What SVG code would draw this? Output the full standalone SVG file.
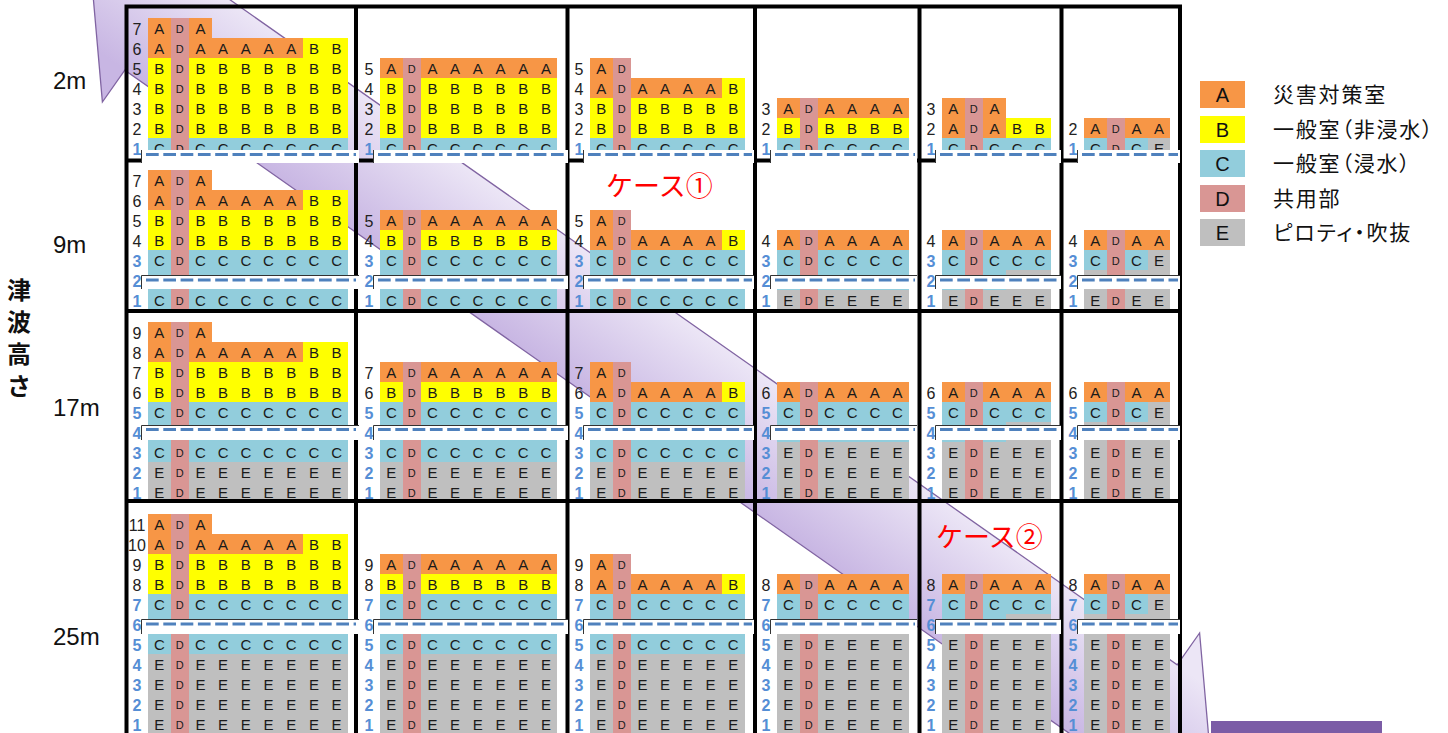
<svg xmlns="http://www.w3.org/2000/svg" width="1448" height="733" viewBox="0 0 1448 733">
<defs>
<linearGradient id="ag" gradientUnits="userSpaceOnUse" x1="684.9" y1="319.2" x2="617.1" y2="415.8">
<stop offset="0" stop-color="#ece6f6"/><stop offset="1" stop-color="#c8b6e3"/>
</linearGradient>
<style>
.a{fill:#f79646}.b{fill:#ffff00}.c{fill:#92cddc}.d{fill:#d99694}.e{fill:#bfbfbf}
rect.a,rect.b,rect.c,rect.d,rect.e{shape-rendering:crispEdges}
.t{font-family:"Liberation Sans",Arial,sans-serif;font-size:15px;fill:#1a1a1a;text-anchor:middle}
.td{font-size:11px}
.n{font-family:"Liberation Sans",Arial,sans-serif;font-size:16px;fill:#222;text-anchor:middle}
.nb{fill:#558ed5;font-weight:bold}
.wb{fill:#fff}
.bl{stroke:#333;stroke-width:1;fill:none}
.dl{stroke:#4f81bd;stroke-width:3;stroke-dasharray:12.7 4.6;fill:none}
.g{stroke:#000;stroke-width:4;fill:none}
.lab{font-family:"Liberation Sans",Arial,sans-serif;font-size:24px;fill:#111}
.jp{font-family:"Noto Sans CJK JP","Noto Sans CJK SC",sans-serif}
.red{font-size:27px;fill:#ff0000}
.lg{font-size:21px;fill:#111;letter-spacing:1.8px;font-feature-settings:"palt"}
.lt{font-family:"Liberation Sans",Arial,sans-serif;font-size:20px;fill:#111;text-anchor:middle}
</style>
</defs>
<rect width="1448" height="733" fill="#fff"/>

<g id="arrow">
<polygon points="91.2,-25.7 215,-58.4 192.6,-26.5 1177.2,664.9 1199.6,633 1210.8,760.7 1087,793.4 1109.4,761.5 124.8,70.1 102.4,102" fill="url(#ag)" stroke="#8064a2" stroke-width="1.3"/>
</g>

<!-- Row 1: 2m -->
<g id="r1c1">
<rect class="a" x="148" y="18" width="22.5" height="40"/><rect class="b" x="148" y="58" width="22.5" height="80"/><rect class="c" x="148" y="138" width="22.5" height="20"/>
<rect class="d" x="170.5" y="18" width="18.5" height="140"/>
<rect class="a" x="189" y="18" width="22.7" height="20"/><rect class="a" x="189" y="38" width="113.5" height="20"/><rect class="b" x="302.5" y="38" width="45.4" height="20"/>
<rect class="b" x="189" y="58" width="158.9" height="80"/><rect class="c" x="189" y="138" width="158.9" height="20"/>
<text class="t"><tspan x="159.3 159.3 159.3 159.3 159.3 159.3 159.3" y="34 54 74 94 114 134 154">AABBBBC</tspan><tspan class="td" x="179.8 179.8 179.8 179.8 179.8 179.8 179.8" y="33 53 73 93 113 133 153">DDDDDDD</tspan><tspan x="200.4 200.4 200.4 200.4 200.4 200.4 200.4" y="34 54 74 94 114 134 154">AABBBBC</tspan><tspan x="223.1 223.1 223.1 223.1 223.1 223.1" y="54 74 94 114 134 154">ABBBBC</tspan><tspan x="245.8 245.8 245.8 245.8 245.8 245.8" y="54 74 94 114 134 154">ABBBBC</tspan><tspan x="268.5 268.5 268.5 268.5 268.5 268.5" y="54 74 94 114 134 154">ABBBBC</tspan><tspan x="291.2 291.2 291.2 291.2 291.2 291.2" y="54 74 94 114 134 154">ABBBBC</tspan><tspan x="313.9 313.9 313.9 313.9 313.9 313.9" y="54 74 94 114 134 154">BBBBBC</tspan><tspan x="336.6 336.6 336.6 336.6 336.6 336.6" y="54 74 94 114 134 154">BBBBBC</tspan></text>
<text class="n"><tspan x="137 137 137 137 137 137" y="34.5 54.5 74.5 94.5 114.5 134.5">765432</tspan><tspan class="nb" x="137" y="154.5">1</tspan></text>
</g>
<g id="r1c2">
<rect class="a" x="380" y="58" width="22.5" height="20"/><rect class="b" x="380" y="78" width="22.5" height="60"/><rect class="c" x="380" y="138" width="22.5" height="20"/>
<rect class="d" x="402.5" y="58" width="18.5" height="100"/>
<rect class="a" x="421" y="58" width="136.2" height="20"/><rect class="b" x="421" y="78" width="136.2" height="60"/><rect class="c" x="421" y="138" width="136.2" height="20"/>
<text class="t"><tspan x="391.3 391.3 391.3 391.3 391.3" y="74 94 114 134 154">ABBBC</tspan><tspan class="td" x="411.8 411.8 411.8 411.8 411.8" y="73 93 113 133 153">DDDDD</tspan><tspan x="432.4 432.4 432.4 432.4 432.4" y="74 94 114 134 154">ABBBC</tspan><tspan x="455.1 455.1 455.1 455.1 455.1" y="74 94 114 134 154">ABBBC</tspan><tspan x="477.8 477.8 477.8 477.8 477.8" y="74 94 114 134 154">ABBBC</tspan><tspan x="500.5 500.5 500.5 500.5 500.5" y="74 94 114 134 154">ABBBC</tspan><tspan x="523.2 523.2 523.2 523.2 523.2" y="74 94 114 134 154">ABBBC</tspan><tspan x="545.9 545.9 545.9 545.9 545.9" y="74 94 114 134 154">ABBBC</tspan></text>
<text class="n"><tspan x="369 369 369 369" y="74.5 94.5 114.5 134.5">5432</tspan><tspan class="nb" x="369" y="154.5">1</tspan></text>
</g>
<g id="r1c3">
<rect class="a" x="590" y="58" width="22.5" height="40"/><rect class="b" x="590" y="98" width="22.5" height="40"/><rect class="c" x="590" y="138" width="22.5" height="20"/>
<rect class="d" x="612.5" y="58" width="18.5" height="100"/>
<rect class="a" x="631" y="78" width="90.8" height="20"/><rect class="b" x="721.8" y="78" width="22.7" height="20"/>
<rect class="b" x="631" y="98" width="113.5" height="40"/><rect class="c" x="631" y="138" width="113.5" height="20"/>
<text class="t"><tspan x="601.3 601.3 601.3 601.3 601.3" y="74 94 114 134 154">AABBC</tspan><tspan class="td" x="621.8 621.8 621.8 621.8 621.8" y="73 93 113 133 153">DDDDD</tspan><tspan x="642.4 642.4 642.4 642.4" y="94 114 134 154">ABBC</tspan><tspan x="665.1 665.1 665.1 665.1" y="94 114 134 154">ABBC</tspan><tspan x="687.8 687.8 687.8 687.8" y="94 114 134 154">ABBC</tspan><tspan x="710.5 710.5 710.5 710.5" y="94 114 134 154">ABBC</tspan><tspan x="733.2 733.2 733.2 733.2" y="94 114 134 154">BBBC</tspan></text>
<text class="n"><tspan x="579 579 579 579" y="74.5 94.5 114.5 134.5">5432</tspan><tspan class="nb" x="579" y="154.5">1</tspan></text>
</g>
<g id="r1c4">
<rect class="a" x="777" y="98" width="22.5" height="20"/><rect class="b" x="777" y="118" width="22.5" height="20"/><rect class="c" x="777" y="138" width="22.5" height="20"/>
<rect class="d" x="799.5" y="98" width="18.5" height="60"/>
<rect class="a" x="818" y="98" width="90.8" height="20"/><rect class="b" x="818" y="118" width="90.8" height="20"/><rect class="c" x="818" y="138" width="90.8" height="20"/>
<text class="t"><tspan x="788.3 788.3 788.3" y="114 134 154">ABC</tspan><tspan class="td" x="808.8 808.8 808.8" y="113 133 153">DDD</tspan><tspan x="829.4 829.4 829.4" y="114 134 154">ABC</tspan><tspan x="852.1 852.1 852.1" y="114 134 154">ABC</tspan><tspan x="874.8 874.8 874.8" y="114 134 154">ABC</tspan><tspan x="897.5 897.5 897.5" y="114 134 154">ABC</tspan></text>
<text class="n"><tspan x="766 766" y="114.5 134.5">32</tspan><tspan class="nb" x="766" y="154.5">1</tspan></text>
</g>
<g id="r1c5">
<rect class="a" x="942" y="98" width="22.5" height="40"/><rect class="c" x="942" y="138" width="22.5" height="20"/>
<rect class="d" x="964.5" y="98" width="18.5" height="60"/>
<rect class="a" x="983" y="98" width="22.7" height="40"/><rect class="b" x="1005.7" y="118" width="45.4" height="20"/><rect class="c" x="983" y="138" width="68.1" height="20"/>
<text class="t"><tspan x="953.3 953.3 953.3" y="114 134 154">AAC</tspan><tspan class="td" x="973.8 973.8 973.8" y="113 133 153">DDD</tspan><tspan x="994.4 994.4 994.4" y="114 134 154">AAC</tspan><tspan x="1017.1 1017.1" y="134 154">BC</tspan><tspan x="1039.8 1039.8" y="134 154">BC</tspan></text>
<text class="n"><tspan x="931 931" y="114.5 134.5">32</tspan><tspan class="nb" x="931" y="154.5">1</tspan></text>
</g>
<g id="r1c6">
<rect class="a" x="1084" y="118" width="22.5" height="20"/><rect class="c" x="1084" y="138" width="22.5" height="20"/>
<rect class="d" x="1106.5" y="118" width="18.5" height="40"/>
<rect class="a" x="1125" y="118" width="45.4" height="20"/><rect class="c" x="1125" y="138" width="22.7" height="20"/><rect class="e" x="1147.7" y="138" width="22.7" height="20"/>
<text class="t"><tspan x="1095.3 1095.3" y="134 154">AC</tspan><tspan class="td" x="1115.8 1115.8" y="133 153">DD</tspan><tspan x="1136.4 1136.4" y="134 154">AC</tspan><tspan x="1159.1 1159.1" y="134 154">AE</tspan></text>
<text class="n"><tspan x="1073" y="134.5">2</tspan><tspan class="nb" x="1073" y="154.5">1</tspan></text>
</g>

<!-- Row 2: 9m -->
<g id="r2c1">
<rect class="a" x="148" y="170" width="22.5" height="40"/><rect class="b" x="148" y="210" width="22.5" height="40"/><rect class="c" x="148" y="250" width="22.5" height="60"/>
<rect class="d" x="170.5" y="170" width="18.5" height="140"/>
<rect class="a" x="189" y="170" width="22.7" height="20"/><rect class="a" x="189" y="190" width="113.5" height="20"/><rect class="b" x="302.5" y="190" width="45.4" height="20"/>
<rect class="b" x="189" y="210" width="158.9" height="40"/><rect class="c" x="189" y="250" width="158.9" height="60"/>
<text class="t"><tspan x="159.3 159.3 159.3 159.3 159.3 159.3" y="186 206 226 246 266 306">AABBCC</tspan><tspan class="td" x="179.8 179.8 179.8 179.8 179.8 179.8" y="185 205 225 245 265 305">DDDDDD</tspan><tspan x="200.4 200.4 200.4 200.4 200.4 200.4" y="186 206 226 246 266 306">AABBCC</tspan><tspan x="223.1 223.1 223.1 223.1 223.1" y="206 226 246 266 306">ABBCC</tspan><tspan x="245.8 245.8 245.8 245.8 245.8" y="206 226 246 266 306">ABBCC</tspan><tspan x="268.5 268.5 268.5 268.5 268.5" y="206 226 246 266 306">ABBCC</tspan><tspan x="291.2 291.2 291.2 291.2 291.2" y="206 226 246 266 306">ABBCC</tspan><tspan x="313.9 313.9 313.9 313.9 313.9" y="206 226 246 266 306">BBBCC</tspan><tspan x="336.6 336.6 336.6 336.6 336.6" y="206 226 246 266 306">BBBCC</tspan></text>
<text class="n"><tspan x="137 137 137 137" y="186.5 206.5 226.5 246.5">7654</tspan><tspan class="nb" x="137 137 137" y="266.5 286.5 306.5">321</tspan></text>
</g>
<g id="r2c2">
<rect class="a" x="380" y="210" width="22.5" height="20"/><rect class="b" x="380" y="230" width="22.5" height="20"/><rect class="c" x="380" y="250" width="22.5" height="60"/>
<rect class="d" x="402.5" y="210" width="18.5" height="100"/>
<rect class="a" x="421" y="210" width="136.2" height="20"/><rect class="b" x="421" y="230" width="136.2" height="20"/><rect class="c" x="421" y="250" width="136.2" height="60"/>
<text class="t"><tspan x="391.3 391.3 391.3 391.3" y="226 246 266 306">ABCC</tspan><tspan class="td" x="411.8 411.8 411.8 411.8" y="225 245 265 305">DDDD</tspan><tspan x="432.4 432.4 432.4 432.4" y="226 246 266 306">ABCC</tspan><tspan x="455.1 455.1 455.1 455.1" y="226 246 266 306">ABCC</tspan><tspan x="477.8 477.8 477.8 477.8" y="226 246 266 306">ABCC</tspan><tspan x="500.5 500.5 500.5 500.5" y="226 246 266 306">ABCC</tspan><tspan x="523.2 523.2 523.2 523.2" y="226 246 266 306">ABCC</tspan><tspan x="545.9 545.9 545.9 545.9" y="226 246 266 306">ABCC</tspan></text>
<text class="n"><tspan x="369 369" y="226.5 246.5">54</tspan><tspan class="nb" x="369 369 369" y="266.5 286.5 306.5">321</tspan></text>
</g>
<g id="r2c3">
<rect class="a" x="590" y="210" width="22.5" height="40"/><rect class="c" x="590" y="250" width="22.5" height="60"/>
<rect class="d" x="612.5" y="210" width="18.5" height="100"/>
<rect class="a" x="631" y="230" width="90.8" height="20"/><rect class="b" x="721.8" y="230" width="22.7" height="20"/><rect class="c" x="631" y="250" width="113.5" height="60"/>
<text class="t"><tspan x="601.3 601.3 601.3 601.3" y="226 246 266 306">AACC</tspan><tspan class="td" x="621.8 621.8 621.8 621.8" y="225 245 265 305">DDDD</tspan><tspan x="642.4 642.4 642.4" y="246 266 306">ACC</tspan><tspan x="665.1 665.1 665.1" y="246 266 306">ACC</tspan><tspan x="687.8 687.8 687.8" y="246 266 306">ACC</tspan><tspan x="710.5 710.5 710.5" y="246 266 306">ACC</tspan><tspan x="733.2 733.2 733.2" y="246 266 306">BCC</tspan></text>
<text class="n"><tspan x="579 579" y="226.5 246.5">54</tspan><tspan class="nb" x="579 579 579" y="266.5 286.5 306.5">321</tspan></text>
</g>
<g id="r2c4">
<rect class="a" x="777" y="230" width="22.5" height="20"/><rect class="c" x="777" y="250" width="22.5" height="40"/><rect class="e" x="777" y="290" width="22.5" height="20"/>
<rect class="d" x="799.5" y="230" width="18.5" height="80"/>
<rect class="a" x="818" y="230" width="90.8" height="20"/><rect class="c" x="818" y="250" width="90.8" height="40"/><rect class="e" x="818" y="290" width="90.8" height="20"/>
<text class="t"><tspan x="788.3 788.3 788.3" y="246 266 306">ACE</tspan><tspan class="td" x="808.8 808.8 808.8" y="245 265 305">DDD</tspan><tspan x="829.4 829.4 829.4" y="246 266 306">ACE</tspan><tspan x="852.1 852.1 852.1" y="246 266 306">ACE</tspan><tspan x="874.8 874.8 874.8" y="246 266 306">ACE</tspan><tspan x="897.5 897.5 897.5" y="246 266 306">ACE</tspan></text>
<text class="n"><tspan x="766" y="246.5">4</tspan><tspan class="nb" x="766 766 766" y="266.5 286.5 306.5">321</tspan></text>
</g>
<g id="r2c5">
<rect class="a" x="942" y="230" width="22.5" height="20"/><rect class="c" x="942" y="250" width="22.5" height="40"/><rect class="e" x="942" y="290" width="22.5" height="20"/>
<rect class="d" x="964.5" y="230" width="18.5" height="80"/>
<rect class="a" x="983" y="230" width="68.1" height="20"/><rect class="c" x="983" y="250" width="68.1" height="20"/><rect class="c" x="983" y="270" width="22.7" height="20"/><rect class="e" x="1005.7" y="270" width="45.4" height="20"/><rect class="e" x="983" y="290" width="68.1" height="20"/>
<text class="t"><tspan x="953.3 953.3 953.3" y="246 266 306">ACE</tspan><tspan class="td" x="973.8 973.8 973.8" y="245 265 305">DDD</tspan><tspan x="994.4 994.4 994.4" y="246 266 306">ACE</tspan><tspan x="1017.1 1017.1 1017.1" y="246 266 306">ACE</tspan><tspan x="1039.8 1039.8 1039.8" y="246 266 306">ACE</tspan></text>
<text class="n"><tspan x="931" y="246.5">4</tspan><tspan class="nb" x="931 931 931" y="266.5 286.5 306.5">321</tspan></text>
</g>
<g id="r2c6">
<rect class="a" x="1084" y="230" width="22.5" height="20"/><rect class="c" x="1084" y="250" width="22.5" height="20"/><rect class="e" x="1084" y="270" width="22.5" height="40"/>
<rect class="d" x="1106.5" y="230" width="18.5" height="80"/>
<rect class="a" x="1125" y="230" width="45.4" height="20"/><rect class="c" x="1125" y="250" width="22.7" height="20"/><rect class="e" x="1147.7" y="250" width="22.7" height="20"/><rect class="e" x="1125" y="270" width="45.4" height="40"/>
<text class="t"><tspan x="1095.3 1095.3 1095.3" y="246 266 306">ACE</tspan><tspan class="td" x="1115.8 1115.8 1115.8" y="245 265 305">DDD</tspan><tspan x="1136.4 1136.4 1136.4" y="246 266 306">ACE</tspan><tspan x="1159.1 1159.1 1159.1" y="246 266 306">AEE</tspan></text>
<text class="n"><tspan x="1073" y="246.5">4</tspan><tspan class="nb" x="1073 1073 1073" y="266.5 286.5 306.5">321</tspan></text>
</g>

<!-- Row 3: 17m -->
<g id="r3c1">
<rect class="a" x="148" y="322" width="22.5" height="40"/><rect class="b" x="148" y="362" width="22.5" height="40"/><rect class="c" x="148" y="402" width="22.5" height="60"/><rect class="e" x="148" y="462" width="22.5" height="40"/>
<rect class="d" x="170.5" y="322" width="18.5" height="180"/>
<rect class="a" x="189" y="322" width="22.7" height="20"/><rect class="a" x="189" y="342" width="113.5" height="20"/><rect class="b" x="302.5" y="342" width="45.4" height="20"/>
<rect class="b" x="189" y="362" width="158.9" height="40"/><rect class="c" x="189" y="402" width="158.9" height="60"/><rect class="e" x="189" y="462" width="158.9" height="40"/>
<text class="t"><tspan x="159.3 159.3 159.3 159.3 159.3 159.3 159.3 159.3" y="338 358 378 398 418 458 478 498">AABBCCEE</tspan><tspan class="td" x="179.8 179.8 179.8 179.8 179.8 179.8 179.8 179.8" y="337 357 377 397 417 457 477 497">DDDDDDDD</tspan><tspan x="200.4 200.4 200.4 200.4 200.4 200.4 200.4 200.4" y="338 358 378 398 418 458 478 498">AABBCCEE</tspan><tspan x="223.1 223.1 223.1 223.1 223.1 223.1 223.1" y="358 378 398 418 458 478 498">ABBCCEE</tspan><tspan x="245.8 245.8 245.8 245.8 245.8 245.8 245.8" y="358 378 398 418 458 478 498">ABBCCEE</tspan><tspan x="268.5 268.5 268.5 268.5 268.5 268.5 268.5" y="358 378 398 418 458 478 498">ABBCCEE</tspan><tspan x="291.2 291.2 291.2 291.2 291.2 291.2 291.2" y="358 378 398 418 458 478 498">ABBCCEE</tspan><tspan x="313.9 313.9 313.9 313.9 313.9 313.9 313.9" y="358 378 398 418 458 478 498">BBBCCEE</tspan><tspan x="336.6 336.6 336.6 336.6 336.6 336.6 336.6" y="358 378 398 418 458 478 498">BBBCCEE</tspan></text>
<text class="n"><tspan x="137 137 137 137" y="338.5 358.5 378.5 398.5">9876</tspan><tspan class="nb" x="137 137 137 137 137" y="418.5 438.5 458.5 478.5 498.5">54321</tspan></text>
</g>
<g id="r3c2">
<rect class="a" x="380" y="362" width="22.5" height="20"/><rect class="b" x="380" y="382" width="22.5" height="20"/><rect class="c" x="380" y="402" width="22.5" height="60"/><rect class="e" x="380" y="462" width="22.5" height="40"/>
<rect class="d" x="402.5" y="362" width="18.5" height="140"/>
<rect class="a" x="421" y="362" width="136.2" height="20"/><rect class="b" x="421" y="382" width="136.2" height="20"/><rect class="c" x="421" y="402" width="136.2" height="60"/><rect class="e" x="421" y="462" width="136.2" height="40"/>
<text class="t"><tspan x="391.3 391.3 391.3 391.3 391.3 391.3" y="378 398 418 458 478 498">ABCCEE</tspan><tspan class="td" x="411.8 411.8 411.8 411.8 411.8 411.8" y="377 397 417 457 477 497">DDDDDD</tspan><tspan x="432.4 432.4 432.4 432.4 432.4 432.4" y="378 398 418 458 478 498">ABCCEE</tspan><tspan x="455.1 455.1 455.1 455.1 455.1 455.1" y="378 398 418 458 478 498">ABCCEE</tspan><tspan x="477.8 477.8 477.8 477.8 477.8 477.8" y="378 398 418 458 478 498">ABCCEE</tspan><tspan x="500.5 500.5 500.5 500.5 500.5 500.5" y="378 398 418 458 478 498">ABCCEE</tspan><tspan x="523.2 523.2 523.2 523.2 523.2 523.2" y="378 398 418 458 478 498">ABCCEE</tspan><tspan x="545.9 545.9 545.9 545.9 545.9 545.9" y="378 398 418 458 478 498">ABCCEE</tspan></text>
<text class="n"><tspan x="369 369" y="378.5 398.5">76</tspan><tspan class="nb" x="369 369 369 369 369" y="418.5 438.5 458.5 478.5 498.5">54321</tspan></text>
</g>
<g id="r3c3">
<rect class="a" x="590" y="362" width="22.5" height="40"/><rect class="c" x="590" y="402" width="22.5" height="60"/><rect class="e" x="590" y="462" width="22.5" height="40"/>
<rect class="d" x="612.5" y="362" width="18.5" height="140"/>
<rect class="a" x="631" y="382" width="90.8" height="20"/><rect class="b" x="721.8" y="382" width="22.7" height="20"/><rect class="c" x="631" y="402" width="113.5" height="60"/><rect class="e" x="631" y="462" width="113.5" height="40"/>
<text class="t"><tspan x="601.3 601.3 601.3 601.3 601.3 601.3" y="378 398 418 458 478 498">AACCEE</tspan><tspan class="td" x="621.8 621.8 621.8 621.8 621.8 621.8" y="377 397 417 457 477 497">DDDDDD</tspan><tspan x="642.4 642.4 642.4 642.4 642.4" y="398 418 458 478 498">ACCEE</tspan><tspan x="665.1 665.1 665.1 665.1 665.1" y="398 418 458 478 498">ACCEE</tspan><tspan x="687.8 687.8 687.8 687.8 687.8" y="398 418 458 478 498">ACCEE</tspan><tspan x="710.5 710.5 710.5 710.5 710.5" y="398 418 458 478 498">ACCEE</tspan><tspan x="733.2 733.2 733.2 733.2 733.2" y="398 418 458 478 498">BCCEE</tspan></text>
<text class="n"><tspan x="579 579" y="378.5 398.5">76</tspan><tspan class="nb" x="579 579 579 579 579" y="418.5 438.5 458.5 478.5 498.5">54321</tspan></text>
</g>
<g id="r3c4">
<rect class="a" x="777" y="382" width="22.5" height="20"/><rect class="c" x="777" y="402" width="22.5" height="40"/><rect class="e" x="777" y="442" width="22.5" height="60"/>
<rect class="d" x="799.5" y="382" width="18.5" height="120"/>
<rect class="a" x="818" y="382" width="90.8" height="20"/><rect class="c" x="818" y="402" width="90.8" height="40"/><rect class="e" x="818" y="442" width="90.8" height="60"/>
<text class="t"><tspan x="788.3 788.3 788.3 788.3 788.3" y="398 418 458 478 498">ACEEE</tspan><tspan class="td" x="808.8 808.8 808.8 808.8 808.8" y="397 417 457 477 497">DDDDD</tspan><tspan x="829.4 829.4 829.4 829.4 829.4" y="398 418 458 478 498">ACEEE</tspan><tspan x="852.1 852.1 852.1 852.1 852.1" y="398 418 458 478 498">ACEEE</tspan><tspan x="874.8 874.8 874.8 874.8 874.8" y="398 418 458 478 498">ACEEE</tspan><tspan x="897.5 897.5 897.5 897.5 897.5" y="398 418 458 478 498">ACEEE</tspan></text>
<text class="n"><tspan x="766" y="398.5">6</tspan><tspan class="nb" x="766 766 766 766 766" y="418.5 438.5 458.5 478.5 498.5">54321</tspan></text>
</g>
<g id="r3c5">
<rect class="a" x="942" y="382" width="22.5" height="20"/><rect class="c" x="942" y="402" width="22.5" height="40"/><rect class="e" x="942" y="442" width="22.5" height="60"/>
<rect class="d" x="964.5" y="382" width="18.5" height="120"/>
<rect class="a" x="983" y="382" width="68.1" height="20"/><rect class="c" x="983" y="402" width="68.1" height="20"/><rect class="c" x="983" y="422" width="22.7" height="20"/><rect class="e" x="1005.7" y="422" width="45.4" height="20"/><rect class="e" x="983" y="442" width="68.1" height="60"/>
<text class="t"><tspan x="953.3 953.3 953.3 953.3 953.3" y="398 418 458 478 498">ACEEE</tspan><tspan class="td" x="973.8 973.8 973.8 973.8 973.8" y="397 417 457 477 497">DDDDD</tspan><tspan x="994.4 994.4 994.4 994.4 994.4" y="398 418 458 478 498">ACEEE</tspan><tspan x="1017.1 1017.1 1017.1 1017.1 1017.1" y="398 418 458 478 498">ACEEE</tspan><tspan x="1039.8 1039.8 1039.8 1039.8 1039.8" y="398 418 458 478 498">ACEEE</tspan></text>
<text class="n"><tspan x="931" y="398.5">6</tspan><tspan class="nb" x="931 931 931 931 931" y="418.5 438.5 458.5 478.5 498.5">54321</tspan></text>
</g>
<g id="r3c6">
<rect class="a" x="1084" y="382" width="22.5" height="20"/><rect class="c" x="1084" y="402" width="22.5" height="20"/><rect class="e" x="1084" y="422" width="22.5" height="80"/>
<rect class="d" x="1106.5" y="382" width="18.5" height="120"/>
<rect class="a" x="1125" y="382" width="45.4" height="20"/><rect class="c" x="1125" y="402" width="22.7" height="20"/><rect class="e" x="1147.7" y="402" width="22.7" height="20"/><rect class="e" x="1125" y="422" width="45.4" height="80"/>
<text class="t"><tspan x="1095.3 1095.3 1095.3 1095.3 1095.3" y="398 418 458 478 498">ACEEE</tspan><tspan class="td" x="1115.8 1115.8 1115.8 1115.8 1115.8" y="397 417 457 477 497">DDDDD</tspan><tspan x="1136.4 1136.4 1136.4 1136.4 1136.4" y="398 418 458 478 498">ACEEE</tspan><tspan x="1159.1 1159.1 1159.1 1159.1 1159.1" y="398 418 458 478 498">AEEEE</tspan></text>
<text class="n"><tspan x="1073" y="398.5">6</tspan><tspan class="nb" x="1073 1073 1073 1073 1073" y="418.5 438.5 458.5 478.5 498.5">54321</tspan></text>
</g>

<!-- Row 4: 25m -->
<g id="r4c1">
<rect class="a" x="148" y="514" width="22.5" height="40"/><rect class="b" x="148" y="554" width="22.5" height="40"/><rect class="c" x="148" y="594" width="22.5" height="60"/><rect class="e" x="148" y="654" width="22.5" height="80"/>
<rect class="d" x="170.5" y="514" width="18.5" height="220"/>
<rect class="a" x="189" y="514" width="22.7" height="20"/><rect class="a" x="189" y="534" width="113.5" height="20"/><rect class="b" x="302.5" y="534" width="45.4" height="20"/>
<rect class="b" x="189" y="554" width="158.9" height="40"/><rect class="c" x="189" y="594" width="158.9" height="60"/><rect class="e" x="189" y="654" width="158.9" height="80"/>
<text class="t"><tspan x="159.3 159.3 159.3 159.3 159.3 159.3 159.3 159.3 159.3 159.3" y="530 550 570 590 610 650 670 690 710 730">AABBCCEEEE</tspan><tspan class="td" x="179.8 179.8 179.8 179.8 179.8 179.8 179.8 179.8 179.8 179.8" y="529 549 569 589 609 649 669 689 709 729">DDDDDDDDDD</tspan><tspan x="200.4 200.4 200.4 200.4 200.4 200.4 200.4 200.4 200.4 200.4" y="530 550 570 590 610 650 670 690 710 730">AABBCCEEEE</tspan><tspan x="223.1 223.1 223.1 223.1 223.1 223.1 223.1 223.1 223.1" y="550 570 590 610 650 670 690 710 730">ABBCCEEEE</tspan><tspan x="245.8 245.8 245.8 245.8 245.8 245.8 245.8 245.8 245.8" y="550 570 590 610 650 670 690 710 730">ABBCCEEEE</tspan><tspan x="268.5 268.5 268.5 268.5 268.5 268.5 268.5 268.5 268.5" y="550 570 590 610 650 670 690 710 730">ABBCCEEEE</tspan><tspan x="291.2 291.2 291.2 291.2 291.2 291.2 291.2 291.2 291.2" y="550 570 590 610 650 670 690 710 730">ABBCCEEEE</tspan><tspan x="313.9 313.9 313.9 313.9 313.9 313.9 313.9 313.9 313.9" y="550 570 590 610 650 670 690 710 730">BBBCCEEEE</tspan><tspan x="336.6 336.6 336.6 336.6 336.6 336.6 336.6 336.6 336.6" y="550 570 590 610 650 670 690 710 730">BBBCCEEEE</tspan></text>
<text class="n"><tspan x="137" y="530.5">11</tspan><tspan x="137" y="550.5">10</tspan><tspan x="137 137" y="570.5 590.5">98</tspan><tspan class="nb" x="137 137 137 137 137 137 137" y="610.5 630.5 650.5 670.5 690.5 710.5 730.5">7654321</tspan></text>
</g>
<g id="r4c2">
<rect class="a" x="380" y="554" width="22.5" height="20"/><rect class="b" x="380" y="574" width="22.5" height="20"/><rect class="c" x="380" y="594" width="22.5" height="60"/><rect class="e" x="380" y="654" width="22.5" height="80"/>
<rect class="d" x="402.5" y="554" width="18.5" height="180"/>
<rect class="a" x="421" y="554" width="136.2" height="20"/><rect class="b" x="421" y="574" width="136.2" height="20"/><rect class="c" x="421" y="594" width="136.2" height="60"/><rect class="e" x="421" y="654" width="136.2" height="80"/>
<text class="t"><tspan x="391.3 391.3 391.3 391.3 391.3 391.3 391.3 391.3" y="570 590 610 650 670 690 710 730">ABCCEEEE</tspan><tspan class="td" x="411.8 411.8 411.8 411.8 411.8 411.8 411.8 411.8" y="569 589 609 649 669 689 709 729">DDDDDDDD</tspan><tspan x="432.4 432.4 432.4 432.4 432.4 432.4 432.4 432.4" y="570 590 610 650 670 690 710 730">ABCCEEEE</tspan><tspan x="455.1 455.1 455.1 455.1 455.1 455.1 455.1 455.1" y="570 590 610 650 670 690 710 730">ABCCEEEE</tspan><tspan x="477.8 477.8 477.8 477.8 477.8 477.8 477.8 477.8" y="570 590 610 650 670 690 710 730">ABCCEEEE</tspan><tspan x="500.5 500.5 500.5 500.5 500.5 500.5 500.5 500.5" y="570 590 610 650 670 690 710 730">ABCCEEEE</tspan><tspan x="523.2 523.2 523.2 523.2 523.2 523.2 523.2 523.2" y="570 590 610 650 670 690 710 730">ABCCEEEE</tspan><tspan x="545.9 545.9 545.9 545.9 545.9 545.9 545.9 545.9" y="570 590 610 650 670 690 710 730">ABCCEEEE</tspan></text>
<text class="n"><tspan x="369 369" y="570.5 590.5">98</tspan><tspan class="nb" x="369 369 369 369 369 369 369" y="610.5 630.5 650.5 670.5 690.5 710.5 730.5">7654321</tspan></text>
</g>
<g id="r4c3">
<rect class="a" x="590" y="554" width="22.5" height="40"/><rect class="c" x="590" y="594" width="22.5" height="60"/><rect class="e" x="590" y="654" width="22.5" height="80"/>
<rect class="d" x="612.5" y="554" width="18.5" height="180"/>
<rect class="a" x="631" y="574" width="90.8" height="20"/><rect class="b" x="721.8" y="574" width="22.7" height="20"/><rect class="c" x="631" y="594" width="113.5" height="60"/><rect class="e" x="631" y="654" width="113.5" height="80"/>
<text class="t"><tspan x="601.3 601.3 601.3 601.3 601.3 601.3 601.3 601.3" y="570 590 610 650 670 690 710 730">AACCEEEE</tspan><tspan class="td" x="621.8 621.8 621.8 621.8 621.8 621.8 621.8 621.8" y="569 589 609 649 669 689 709 729">DDDDDDDD</tspan><tspan x="642.4 642.4 642.4 642.4 642.4 642.4 642.4" y="590 610 650 670 690 710 730">ACCEEEE</tspan><tspan x="665.1 665.1 665.1 665.1 665.1 665.1 665.1" y="590 610 650 670 690 710 730">ACCEEEE</tspan><tspan x="687.8 687.8 687.8 687.8 687.8 687.8 687.8" y="590 610 650 670 690 710 730">ACCEEEE</tspan><tspan x="710.5 710.5 710.5 710.5 710.5 710.5 710.5" y="590 610 650 670 690 710 730">ACCEEEE</tspan><tspan x="733.2 733.2 733.2 733.2 733.2 733.2 733.2" y="590 610 650 670 690 710 730">BCCEEEE</tspan></text>
<text class="n"><tspan x="579 579" y="570.5 590.5">98</tspan><tspan class="nb" x="579 579 579 579 579 579 579" y="610.5 630.5 650.5 670.5 690.5 710.5 730.5">7654321</tspan></text>
</g>
<g id="r4c4">
<rect class="a" x="777" y="574" width="22.5" height="20"/><rect class="c" x="777" y="594" width="22.5" height="40"/><rect class="e" x="777" y="634" width="22.5" height="100"/>
<rect class="d" x="799.5" y="574" width="18.5" height="160"/>
<rect class="a" x="818" y="574" width="90.8" height="20"/><rect class="c" x="818" y="594" width="90.8" height="40"/><rect class="e" x="818" y="634" width="90.8" height="100"/>
<text class="t"><tspan x="788.3 788.3 788.3 788.3 788.3 788.3 788.3" y="590 610 650 670 690 710 730">ACEEEEE</tspan><tspan class="td" x="808.8 808.8 808.8 808.8 808.8 808.8 808.8" y="589 609 649 669 689 709 729">DDDDDDD</tspan><tspan x="829.4 829.4 829.4 829.4 829.4 829.4 829.4" y="590 610 650 670 690 710 730">ACEEEEE</tspan><tspan x="852.1 852.1 852.1 852.1 852.1 852.1 852.1" y="590 610 650 670 690 710 730">ACEEEEE</tspan><tspan x="874.8 874.8 874.8 874.8 874.8 874.8 874.8" y="590 610 650 670 690 710 730">ACEEEEE</tspan><tspan x="897.5 897.5 897.5 897.5 897.5 897.5 897.5" y="590 610 650 670 690 710 730">ACEEEEE</tspan></text>
<text class="n"><tspan x="766" y="590.5">8</tspan><tspan class="nb" x="766 766 766 766 766 766 766" y="610.5 630.5 650.5 670.5 690.5 710.5 730.5">7654321</tspan></text>
</g>
<g id="r4c5">
<rect class="a" x="942" y="574" width="22.5" height="20"/><rect class="c" x="942" y="594" width="22.5" height="40"/><rect class="e" x="942" y="634" width="22.5" height="100"/>
<rect class="d" x="964.5" y="574" width="18.5" height="160"/>
<rect class="a" x="983" y="574" width="68.1" height="20"/><rect class="c" x="983" y="594" width="68.1" height="20"/><rect class="c" x="983" y="614" width="22.7" height="20"/><rect class="e" x="1005.7" y="614" width="45.4" height="20"/><rect class="e" x="983" y="634" width="68.1" height="100"/>
<text class="t"><tspan x="953.3 953.3 953.3 953.3 953.3 953.3 953.3" y="590 610 650 670 690 710 730">ACEEEEE</tspan><tspan class="td" x="973.8 973.8 973.8 973.8 973.8 973.8 973.8" y="589 609 649 669 689 709 729">DDDDDDD</tspan><tspan x="994.4 994.4 994.4 994.4 994.4 994.4 994.4" y="590 610 650 670 690 710 730">ACEEEEE</tspan><tspan x="1017.1 1017.1 1017.1 1017.1 1017.1 1017.1 1017.1" y="590 610 650 670 690 710 730">ACEEEEE</tspan><tspan x="1039.8 1039.8 1039.8 1039.8 1039.8 1039.8 1039.8" y="590 610 650 670 690 710 730">ACEEEEE</tspan></text>
<text class="n"><tspan x="931" y="590.5">8</tspan><tspan class="nb" x="931 931 931 931 931 931 931" y="610.5 630.5 650.5 670.5 690.5 710.5 730.5">7654321</tspan></text>
</g>
<g id="r4c6">
<rect class="a" x="1084" y="574" width="22.5" height="20"/><rect class="c" x="1084" y="594" width="22.5" height="20"/><rect class="e" x="1084" y="614" width="22.5" height="120"/>
<rect class="d" x="1106.5" y="574" width="18.5" height="160"/>
<rect class="a" x="1125" y="574" width="45.4" height="20"/><rect class="c" x="1125" y="594" width="22.7" height="20"/><rect class="e" x="1147.7" y="594" width="22.7" height="20"/><rect class="e" x="1125" y="614" width="45.4" height="120"/>
<text class="t"><tspan x="1095.3 1095.3 1095.3 1095.3 1095.3 1095.3 1095.3" y="590 610 650 670 690 710 730">ACEEEEE</tspan><tspan class="td" x="1115.8 1115.8 1115.8 1115.8 1115.8 1115.8 1115.8" y="589 609 649 669 689 709 729">DDDDDDD</tspan><tspan x="1136.4 1136.4 1136.4 1136.4 1136.4 1136.4 1136.4" y="590 610 650 670 690 710 730">ACEEEEE</tspan><tspan x="1159.1 1159.1 1159.1 1159.1 1159.1 1159.1 1159.1" y="590 610 650 670 690 710 730">AEEEEEE</tspan></text>
<text class="n"><tspan x="1073" y="590.5">8</tspan><tspan class="nb" x="1073 1073 1073 1073 1073 1073 1073" y="610.5 630.5 650.5 670.5 690.5 710.5 730.5">7654321</tspan></text>
</g>

<g id="grid">
<path class="g" d="M124.5 6.5H1182M124.5 160.5H1182M124.5 311H1182M124.5 501H1182M126.5 4.5V733M356 4.5V733M567.5 4.5V733M755 4.5V733M919.5 4.5V733M1061.5 4.5V733M1180 4.5V733"/>
</g>

<g id="floodlines">
<rect class="wb" x="141" y="150" width="218" height="13"/><rect class="wb" x="373" y="150" width="195" height="13"/><rect class="wb" x="583" y="150" width="171" height="13"/><rect class="wb" x="770" y="150" width="147" height="13"/><rect class="wb" x="935" y="150" width="126" height="13"/><rect class="wb" x="1077" y="150" width="103" height="13"/>
<path class="bl" d="M141.5 163V150M373.5 163V150M583.5 163V150M770.5 163V150M935.5 163V150M1077.5 163V150"/>
<path class="dl" d="M146 154.5H356M378 154.5H566M588 154.5H752M775 154.5H915M940 154.5H1059M1082 154.5H1178"/>
<rect class="wb" x="141" y="275" width="218" height="14"/><rect class="wb" x="373" y="275" width="195" height="14"/><rect class="wb" x="583" y="275" width="171" height="14"/><rect class="wb" x="770" y="275" width="147" height="14"/><rect class="wb" x="935" y="275" width="126" height="14"/><rect class="wb" x="1077" y="275" width="103" height="14"/>
<path class="bl" d="M141.5 289V275.5H359M373.5 289V275.5H568M583.5 289V275.5H754M770.5 289V275.5H917M935.5 289V275.5H1061M1077.5 289V275.5H1180"/>
<path class="dl" d="M146 280H356M378 280H566M588 280H752M775 280H915M940 280H1059M1082 280H1178"/>
<rect class="wb" x="141" y="425" width="218" height="15"/><rect class="wb" x="373" y="425" width="195" height="15"/><rect class="wb" x="583" y="425" width="171" height="15"/><rect class="wb" x="770" y="425" width="147" height="15"/><rect class="wb" x="935" y="425" width="126" height="15"/><rect class="wb" x="1077" y="425" width="103" height="15"/>
<path class="bl" d="M141.5 440V425.5H359M373.5 440V425.5H568M583.5 440V425.5H754M770.5 440V425.5H917M935.5 440V425.5H1061M1077.5 440V425.5H1180"/>
<path class="dl" d="M146 429.5H356M378 429.5H566M588 429.5H752M775 429.5H915M940 429.5H1059M1082 429.5H1178"/>
<rect class="wb" x="141" y="619" width="218" height="15"/><rect class="wb" x="373" y="619" width="195" height="15"/><rect class="wb" x="583" y="619" width="171" height="15"/><rect class="wb" x="770" y="619" width="147" height="15"/><rect class="wb" x="935" y="619" width="126" height="15"/><rect class="wb" x="1077" y="619" width="103" height="15"/>
<path class="bl" d="M141.5 634V619.5H359M373.5 634V619.5H568M583.5 634V619.5H754M770.5 634V619.5H917M935.5 634V619.5H1061M1077.5 634V619.5H1180"/>
<path class="dl" d="M146 624H356M378 624H566M588 624H752M775 624H915M940 624H1059M1082 624H1178"/>
</g>

<g id="cases">
<text class="jp red" x="606" y="196">ケース①</text>
<text class="jp red" x="936" y="547">ケース②</text>
</g>

<g id="axis">
<text class="jp" font-size="24" font-weight="bold" fill="#111" text-anchor="middle"><tspan x="19" y="299">津</tspan><tspan x="19" y="331">波</tspan><tspan x="19" y="363">高</tspan><tspan x="19" y="395">さ</tspan></text>
<text class="lab" x="53" y="89">2m</text>
<text class="lab" x="53" y="253">9m</text>
<text class="lab" x="53" y="416">17m</text>
<text class="lab" x="53" y="645">25m</text>
</g>

<g id="legend">
<rect class="a" x="1200" y="81" width="45" height="27"/><text class="lt" x="1222.5" y="102">A</text><text class="jp lg" x="1273" y="102">災害対策室</text>
<rect class="b" x="1200" y="115.5" width="45" height="27"/><text class="lt" x="1222.5" y="136.5">B</text><text class="jp lg" x="1273" y="136.5">一般室（非浸水）</text>
<rect class="c" x="1200" y="150" width="45" height="27"/><text class="lt" x="1222.5" y="171">C</text><text class="jp lg" x="1273" y="171">一般室（浸水）</text>
<rect class="d" x="1200" y="184.5" width="45" height="27"/><text class="lt" x="1222.5" y="205.5">D</text><text class="jp lg" x="1273" y="205.5">共用部</text>
<rect class="e" x="1200" y="219" width="45" height="27"/><text class="lt" x="1222.5" y="240">E</text><text class="jp lg" x="1273" y="240">ピロティ・吹抜</text>
</g>

<g id="bottom-box">
<rect x="1211" y="721" width="171" height="20" fill="#7b5ca6"/>
</g>
</svg>
